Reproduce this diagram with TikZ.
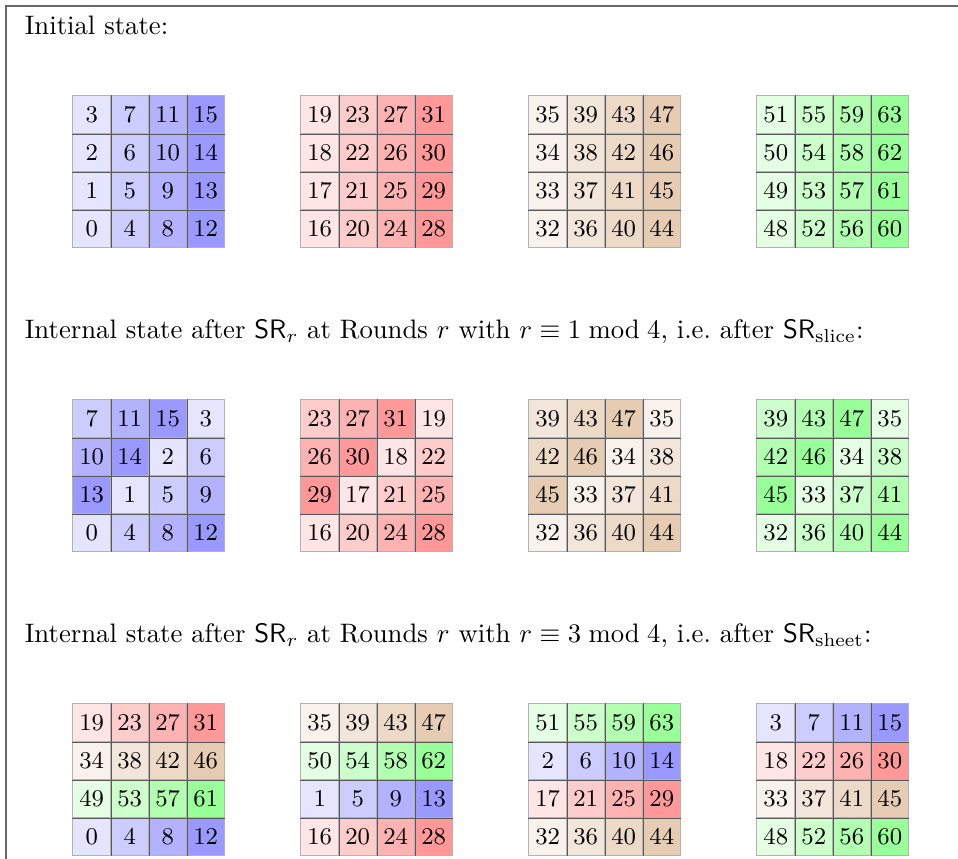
\documentclass[tikz,border=0pt]{standalone}
\usepackage{amsmath}
\usepackage{amssymb}
\usetikzlibrary{positioning}

% one hue per block of sixteen entries
\colorlet{hue0}{blue}
\colorlet{hue1}{red}
\colorlet{hue2}{brown}
\colorlet{hue3}{green}

% #1 name, #2 top-left corner, #3 entries row by row, #4 hue shift
\newcommand{\stategrid}[4]{%
  \foreach \n [count=\i from 0] in {#3} {
    \pgfmathtruncatemacro{\row}{int(\i/4)}
    \pgfmathtruncatemacro{\col}{mod(\i,4)}
    \pgfmathtruncatemacro{\hue}{mod(int(\n/16)+#4,4)}
    \pgfmathtruncatemacro{\shade}{10*(int(mod(\n,16)/4)+1)}
    \node[cell, fill=hue\hue!\shade, xshift=0.5cm*\col, yshift=-0.5cm*\row] (#1-\row-\col) at (#2) {\n};
  }
  \foreach \c in {0,1,2} {
    \draw[innerline] (#1-0-\c.north east) -- (#1-3-\c.south east);
    \draw[innerline] (#1-\c-0.south west) -- (#1-\c-3.south east);
  }
}

\begin{document}
\begin{tikzpicture}[
    cell/.style={draw=black!30, minimum size=0.5cm, inner sep=0pt, anchor=north west, font=\small},
    innerline/.style={draw=black!65, line width=0.4pt},
    caption/.style={anchor=base west, inner sep=0pt},
    frame/.style={draw=black!60, line width=0.8pt}
]
    \useasboundingbox (0,0) rectangle (12.605,-11.29);
    \draw[frame] (12.7,-0.08) -- (0.08,-0.08) -- (0.08,-11.4);

    % corners of the twelve grids
    \foreach \r [count=\k from 0] in {init,slice,sheet} {
        \foreach \g in {0,...,3} {
            \coordinate (\r-\g) at (0.95+3*\g, -1.25-4*\k);
        }
    }

    \node[caption] (initlabel) at (0.32,-0.46) {Initial state:};
    \node[caption] (slicelabel) at (0.32,-4.46) {Internal state after $\mathsf{SR}_r$ at Rounds $r$ with $r \equiv 1 \bmod 4$, i.e.\ after $\mathsf{SR}_{\text{slice}}$:};
    \node[caption] (sheetlabel) at (0.32,-8.46) {Internal state after $\mathsf{SR}_r$ at Rounds $r$ with $r \equiv 3 \bmod 4$, i.e.\ after $\mathsf{SR}_{\text{sheet}}$:};

    % initial state
    \stategrid{a0}{init-0}{3,7,11,15,2,6,10,14,1,5,9,13,0,4,8,12}{0}
    \stategrid{a1}{init-1}{19,23,27,31,18,22,26,30,17,21,25,29,16,20,24,28}{0}
    \stategrid{a2}{init-2}{35,39,43,47,34,38,42,46,33,37,41,45,32,36,40,44}{0}
    \stategrid{a3}{init-3}{51,55,59,63,50,54,58,62,49,53,57,61,48,52,56,60}{0}

    % after SR slice
    \stategrid{b0}{slice-0}{7,11,15,3,10,14,2,6,13,1,5,9,0,4,8,12}{0}
    \stategrid{b1}{slice-1}{23,27,31,19,26,30,18,22,29,17,21,25,16,20,24,28}{0}
    \stategrid{b2}{slice-2}{39,43,47,35,42,46,34,38,45,33,37,41,32,36,40,44}{0}
    \stategrid{b3}{slice-3}{39,43,47,35,42,46,34,38,45,33,37,41,32,36,40,44}{1}

    % after SR sheet
    \stategrid{c0}{sheet-0}{19,23,27,31,34,38,42,46,49,53,57,61,0,4,8,12}{0}
    \stategrid{c1}{sheet-1}{35,39,43,47,50,54,58,62,1,5,9,13,16,20,24,28}{0}
    \stategrid{c2}{sheet-2}{51,55,59,63,2,6,10,14,17,21,25,29,32,36,40,44}{0}
    \stategrid{c3}{sheet-3}{3,7,11,15,18,22,26,30,33,37,41,45,48,52,56,60}{0}
\end{tikzpicture}
\end{document}
